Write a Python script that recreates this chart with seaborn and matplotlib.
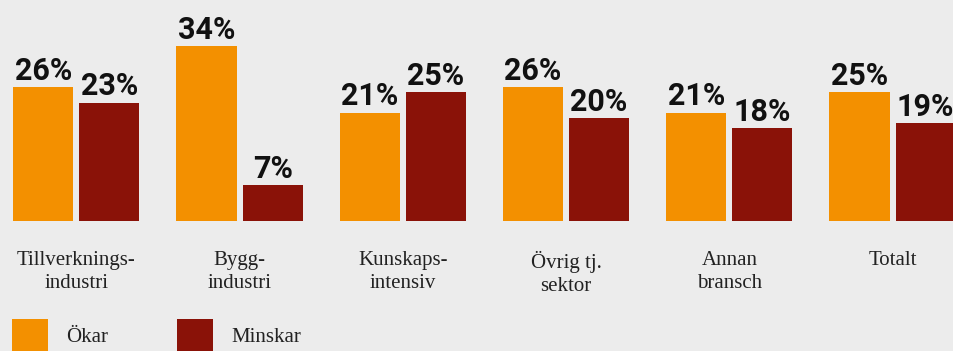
import matplotlib
matplotlib.use("Agg")
import matplotlib.pyplot as plt
import seaborn as sns
import pandas as pd

categories = ["Tillverknings-\nindustri", "Bygg-\nindustri", "Kunskaps-\nintensiv",
              "Övrig tj.\nsektor", "Annan\nbransch", "Totalt"]
series_names = ["Ökar", "Minskar"]
okar = [26, 34, 21, 26, 21, 25]
minskar = [23, 7, 25, 20, 18, 19]

colors = ["#F39000", "#8A1208"]
bg = "#ECECEC"

df = pd.DataFrame({
    "Kategori": categories * 2,
    "Serie": [series_names[0]] * len(categories) + [series_names[1]] * len(categories),
    "Andel": okar + minskar,
})

sns.set_theme(style="white")
plt.rcParams["font.family"] = ["Liberation Serif", "DejaVu Serif"]

W, H = 954, 351
fig = plt.figure(figsize=(W / 100, H / 100), dpi=100, facecolor=bg)
base_px = 221
scale = 5.15
ax = fig.add_axes([0, (H - base_px) / H, 1, base_px / H])
ax.set_facecolor(bg)

sns.barplot(data=df, x="Kategori", y="Andel", hue="Serie", palette=colors,
            width=0.81, gap=0.09, saturation=1, linewidth=0, edgecolor="none", ax=ax)

group_px = 163.25
first_px = 76.3
ax.set_xlim(-first_px / group_px, (W - first_px) / group_px)
ax.set_ylim(0, base_px / scale)

for cont, vals in zip(ax.containers, [okar, minskar]):
    ax.bar_label(cont, labels=[f"{v}%" for v in vals], padding=1,
                 fontsize=22, fontweight="bold", family=["Roboto", "DejaVu Sans"],
                 color="#111111")

for s in ax.spines.values():
    s.set_visible(False)
ax.set_xlabel("")
ax.set_ylabel("")
ax.set_yticks([])
ax.tick_params(axis="x", length=0, pad=21.5, labelsize=15, labelcolor="#222222")
for t in ax.get_xticklabels():
    t.set_linespacing(1.3)

handles, labels = ax.get_legend_handles_labels()
if ax.get_legend() is not None:
    ax.get_legend().remove()
fig.legend(handles, labels, loc="upper left", bbox_to_anchor=(12 / W, 32 / H),
           ncol=2, frameon=False, fontsize=15, handlelength=1.73, handleheight=2.1,
           handletextpad=0.85, columnspacing=3.33, borderpad=0, borderaxespad=0,
           labelcolor="#222222")

fig.savefig("out.png", dpi=100, facecolor=bg)
